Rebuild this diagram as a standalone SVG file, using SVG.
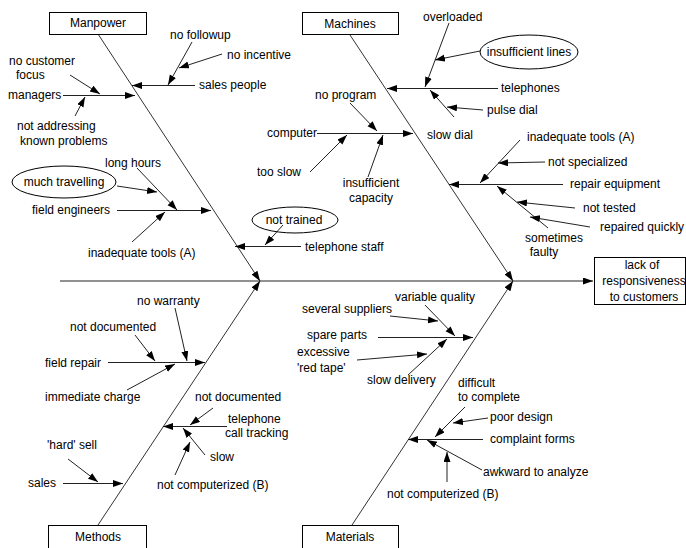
<svg xmlns="http://www.w3.org/2000/svg" width="686" height="548" viewBox="0 0 686 548">
  <defs>
    <marker id="arrow" markerUnits="userSpaceOnUse" markerWidth="11" markerHeight="8" refX="10" refY="3.5" orient="auto">
      <path d="M0,0 L10,3.5 L0,7 z" fill="#000"/>
    </marker>
    <style>
      text { font-family: "Liberation Sans", Arial, sans-serif; font-size: 12px; fill: #000; }
      .c { text-anchor: middle; }
      .box { fill: #fff; stroke: #000; stroke-width: 1; }
      .oval { fill: none; stroke: #000; stroke-width: 1; }
      .ln { stroke: #222; stroke-width: 1; fill: none; marker-end: url(#arrow); }
      .bone { stroke: #333; stroke-width: 1; fill: none; marker-end: url(#arrow); }
    </style>
  </defs>
  <rect width="686" height="548" fill="#fff"/>

  <!-- connectors: spine, category bones and cause arrows -->
  <g id="connectors">
    <line class="ln" x1="60" y1="281" x2="593" y2="281"/>
    <line class="bone" x1="98" y1="34" x2="260" y2="281"/>
    <line class="bone" x1="350" y1="35" x2="513" y2="281"/>
    <line class="bone" x1="98" y1="525" x2="260" y2="281"/>
    <line class="bone" x1="352" y1="525" x2="513" y2="281"/>

    <!-- Manpower causes -->
    <line class="ln" x1="195" y1="85.5" x2="132" y2="85.5"/>
    <line class="ln" x1="192" y1="42" x2="168" y2="85"/>
    <line class="ln" x1="222" y1="54" x2="179" y2="68"/>
    <line class="ln" x1="63" y1="95.5" x2="135" y2="95.5"/>
    <line class="ln" x1="70" y1="75" x2="100" y2="94"/>
    <line class="ln" x1="75" y1="116" x2="85" y2="97"/>
    <line class="ln" x1="117" y1="186" x2="157" y2="192"/>
    <line class="ln" x1="137" y1="168" x2="177" y2="210"/>
    <line class="ln" x1="117" y1="210.5" x2="211" y2="210.5"/>
    <line class="ln" x1="132" y1="242" x2="165" y2="212"/>
    <line class="ln" x1="283" y1="225" x2="265" y2="245"/>
    <line class="ln" x1="301" y1="246.5" x2="235" y2="246.5"/>

    <!-- Machines causes -->
    <line class="ln" x1="449" y1="23" x2="425" y2="87"/>
    <line class="ln" x1="480" y1="51" x2="435" y2="60"/>
    <line class="ln" x1="498" y1="88.5" x2="387" y2="88.5"/>
    <line class="ln" x1="483" y1="110" x2="447" y2="107"/>
    <line class="ln" x1="454" y1="117" x2="430" y2="90"/>
    <line class="ln" x1="350" y1="103" x2="377" y2="131"/>
    <line class="ln" x1="317" y1="133.5" x2="413" y2="133.5"/>
    <line class="ln" x1="310" y1="172" x2="347" y2="135"/>
    <line class="ln" x1="368" y1="177" x2="383" y2="135"/>
    <line class="ln" x1="563" y1="184.5" x2="449" y2="184.5"/>
    <line class="ln" x1="520" y1="140" x2="480" y2="183"/>
    <line class="ln" x1="545" y1="162" x2="498" y2="163"/>
    <line class="ln" x1="548" y1="228" x2="497" y2="186"/>
    <line class="ln" x1="575" y1="208" x2="517" y2="202"/>
    <line class="ln" x1="590" y1="227" x2="530" y2="217"/>

    <!-- Methods causes -->
    <line class="ln" x1="175" y1="308" x2="187" y2="361"/>
    <line class="ln" x1="135" y1="335" x2="155" y2="361"/>
    <line class="ln" x1="108" y1="362.5" x2="205" y2="362.5"/>
    <line class="ln" x1="127" y1="390" x2="175" y2="364"/>
    <line class="ln" x1="213" y1="408" x2="190" y2="425"/>
    <line class="ln" x1="227" y1="426.5" x2="163" y2="426.5"/>
    <line class="ln" x1="205" y1="455" x2="183" y2="428"/>
    <line class="ln" x1="175" y1="475" x2="190" y2="442"/>
    <line class="ln" x1="68" y1="459" x2="98" y2="482"/>
    <line class="ln" x1="63" y1="483.5" x2="123" y2="483.5"/>

    <!-- Materials causes -->
    <line class="ln" x1="425" y1="305" x2="455" y2="336"/>
    <line class="ln" x1="390" y1="316" x2="438" y2="321"/>
    <line class="ln" x1="378" y1="337.5" x2="473" y2="337.5"/>
    <line class="ln" x1="357" y1="360" x2="427" y2="354"/>
    <line class="ln" x1="408" y1="375" x2="447" y2="339"/>
    <line class="ln" x1="465" y1="407" x2="435" y2="437"/>
    <line class="ln" x1="488" y1="418" x2="453" y2="423"/>
    <line class="ln" x1="483" y1="439.5" x2="408" y2="439.5"/>
    <line class="ln" x1="482" y1="470" x2="427" y2="440"/>
    <line class="ln" x1="447" y1="482" x2="447" y2="452"/>
  </g>

  <!-- category boxes -->
  <g id="manpower">
    <rect class="box" x="49.5" y="12.5" width="97" height="22"/>
    <text class="c" x="98" y="27">Manpower</text>
  </g>
  <g id="machines">
    <rect class="box" x="302.5" y="12.5" width="96" height="22"/>
    <text class="c" x="350" y="28">Machines</text>
  </g>
  <g id="methods">
    <rect class="box" x="48.5" y="525.5" width="98" height="30"/>
    <text class="c" x="98" y="541">Methods</text>
  </g>
  <g id="materials">
    <rect class="box" x="302.5" y="525.5" width="96" height="30"/>
    <text class="c" x="350" y="541">Materials</text>
  </g>
  <g id="effect">
    <rect class="box" x="594.5" y="257.5" width="91" height="47"/>
    <text class="c" x="642" y="269">lack of</text>
    <text class="c" x="644" y="285">responsiveness</text>
    <text class="c" x="644" y="301">to customers</text>
  </g>

  <!-- Manpower causes -->
  <g id="sales-people"><text x="199" y="89">sales people</text></g>
  <g id="no-followup"><text x="170" y="39">no followup</text></g>
  <g id="no-incentive"><text x="227" y="59">no incentive</text></g>
  <g id="managers"><text x="8" y="99">managers</text></g>
  <g id="no-customer-focus"><text x="9" y="65">no customer</text><text x="16" y="79">focus</text></g>
  <g id="not-addressing"><text x="17" y="130">not addressing</text><text x="20" y="145">known problems</text></g>
  <g id="much-travelling">
    <ellipse class="oval" cx="64" cy="182" rx="52" ry="16"/>
    <text class="c" x="64" y="186">much travelling</text>
  </g>
  <g id="long-hours"><text x="105" y="167">long hours</text></g>
  <g id="field-engineers"><text x="32" y="214">field engineers</text></g>
  <g id="inadequate-tools-1"><text x="88" y="257">inadequate tools (A)</text></g>
  <g id="not-trained">
    <ellipse class="oval" cx="295" cy="220" rx="43" ry="13"/>
    <text class="c" x="294" y="224">not trained</text>
  </g>
  <g id="telephone-staff"><text x="305" y="251">telephone staff</text></g>

  <!-- Machines causes -->
  <g id="overloaded"><text x="423" y="21">overloaded</text></g>
  <g id="insufficient-lines">
    <ellipse class="oval" cx="529" cy="52" rx="49" ry="17"/>
    <text class="c" x="529" y="56">insufficient lines</text>
  </g>
  <g id="telephones"><text x="501" y="92">telephones</text></g>
  <g id="pulse-dial"><text x="487" y="114">pulse dial</text></g>
  <g id="slow-dial"><text x="427" y="139">slow dial</text></g>
  <g id="no-program"><text x="315" y="99">no program</text></g>
  <g id="computer"><text x="267" y="137">computer</text></g>
  <g id="too-slow"><text x="257" y="176">too slow</text></g>
  <g id="insufficient-capacity"><text class="c" x="371" y="187">insufficient</text><text class="c" x="371" y="202">capacity</text></g>
  <g id="repair-equipment"><text x="570" y="188">repair equipment</text></g>
  <g id="inadequate-tools-2"><text x="527" y="141">inadequate tools (A)</text></g>
  <g id="not-specialized"><text x="548" y="166">not specialized</text></g>
  <g id="sometimes-faulty"><text class="c" x="554" y="242">sometimes</text><text class="c" x="544" y="256">faulty</text></g>
  <g id="not-tested"><text x="583" y="212">not tested</text></g>
  <g id="repaired-quickly"><text x="600" y="231">repaired quickly</text></g>

  <!-- Methods causes -->
  <g id="no-warranty"><text x="137" y="305">no warranty</text></g>
  <g id="not-documented-1"><text x="70" y="331">not documented</text></g>
  <g id="field-repair"><text x="45" y="367">field repair</text></g>
  <g id="immediate-charge"><text x="45" y="401">immediate charge</text></g>
  <g id="not-documented-2"><text x="195" y="401">not documented</text></g>
  <g id="call-tracking"><text x="228" y="423">telephone</text><text x="225" y="437">call tracking</text></g>
  <g id="slow"><text x="210" y="461">slow</text></g>
  <g id="not-computerized-1"><text x="157" y="489">not computerized (B)</text></g>
  <g id="hard-sell"><text x="47" y="449">'hard' sell</text></g>
  <g id="sales"><text x="28" y="487">sales</text></g>

  <!-- Materials causes -->
  <g id="variable-quality"><text x="395" y="301">variable quality</text></g>
  <g id="several-suppliers"><text x="302" y="313">several suppliers</text></g>
  <g id="spare-parts"><text x="307" y="339">spare parts</text></g>
  <g id="red-tape"><text x="297" y="356">excessive</text><text x="297" y="372">'red tape'</text></g>
  <g id="slow-delivery"><text x="367" y="384">slow delivery</text></g>
  <g id="difficult"><text x="458" y="387">difficult</text><text x="458" y="401">to complete</text></g>
  <g id="poor-design"><text x="490" y="421">poor design</text></g>
  <g id="complaint-forms"><text x="490" y="443">complaint forms</text></g>
  <g id="awkward"><text x="483" y="476">awkward to analyze</text></g>
  <g id="not-computerized-2"><text x="387" y="498">not computerized (B)</text></g>
</svg>
